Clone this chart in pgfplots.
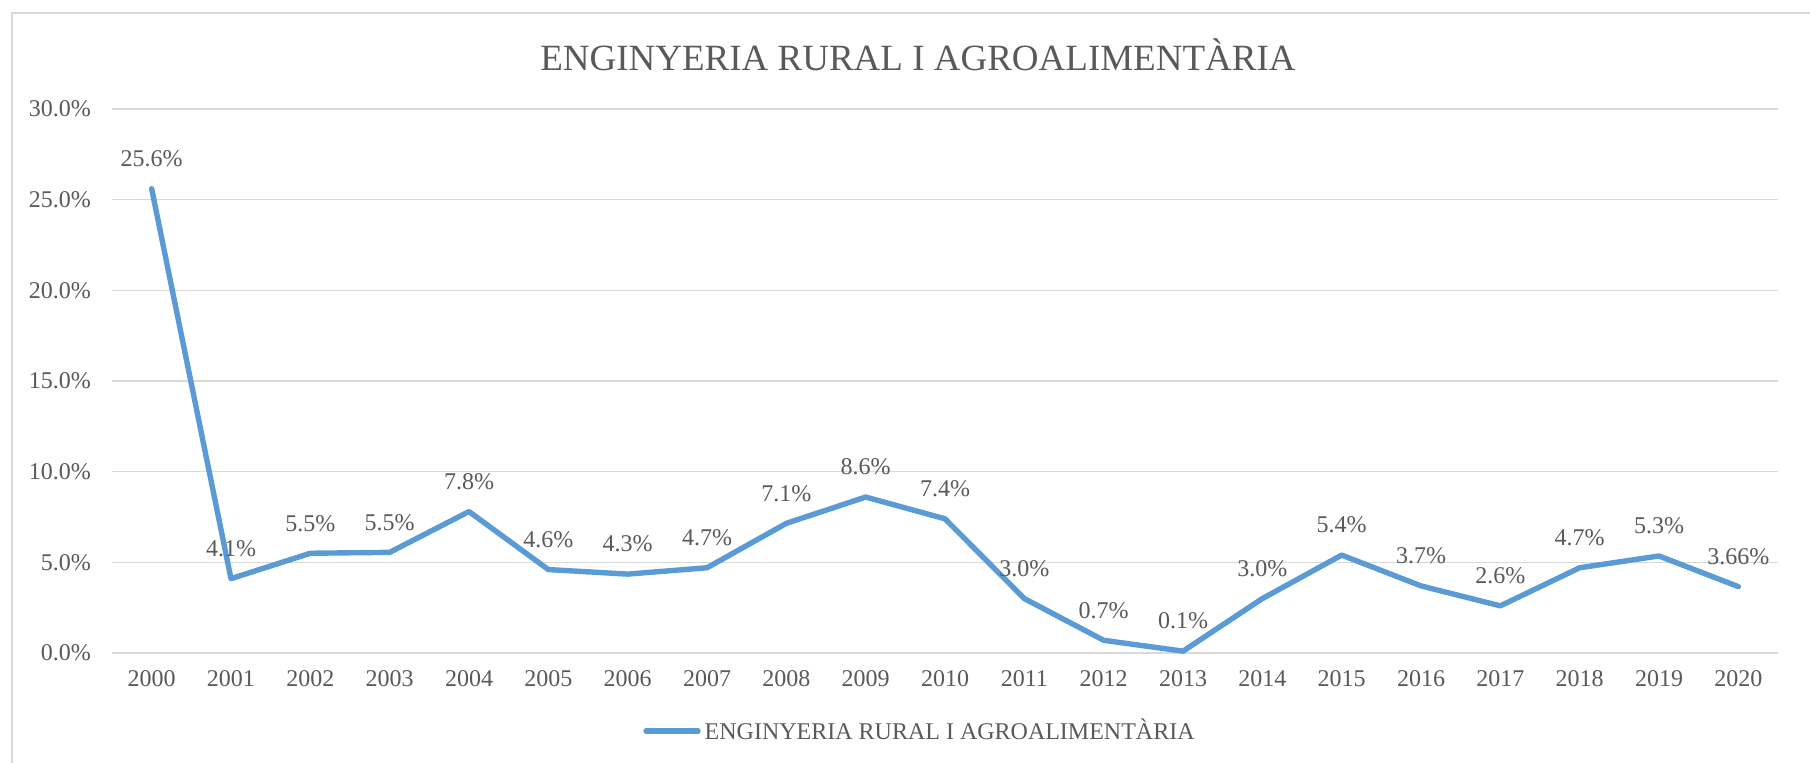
\documentclass[border=0pt]{standalone}
\usepackage{pgfplots}
\pgfplotsset{compat=1.18}
\usepackage{pgfplotstable}
\usepackage{fontspec}
\setmainfont{Liberation Serif}
\definecolor{txtc}{HTML}{595959}
\definecolor{gridc}{HTML}{D9D9D9}
\definecolor{serc}{HTML}{5B9BD5}
\pgfplotstableread{
x y lab
0 25.6 25.6\%
1 4.1 4.1\%
2 5.5 5.5\%
3 5.55 5.5\%
4 7.8 7.8\%
5 4.6 4.6\%
6 4.35 4.3\%
7 4.7 4.7\%
8 7.15 7.1\%
9 8.6 8.6\%
10 7.4 7.4\%
11 3.0 3.0\%
12 0.7 0.7\%
13 0.1 0.1\%
14 3.0 3.0\%
15 5.4 5.4\%
16 3.7 3.7\%
17 2.6 2.6\%
18 4.7 4.7\%
19 5.35 5.3\%
20 3.66 3.66\%
}\datatable
\begin{document}
\begin{tikzpicture}
\path[use as bounding box] (-56pt,-55pt) rectangle (849pt,326.5pt);
\draw[gridc, line width=0.8pt] (-50pt,-60pt) -- (-50pt,320pt) -- (860pt,320pt);
\begin{axis}[
  at={(0pt,0pt)}, anchor=south west,
  scale only axis, width=833pt, height=272pt,
  xmin=-0.5, xmax=20.5, ymin=0, ymax=30,
  xtick={0,...,20},
  xticklabels={2000,2001,2002,2003,2004,2005,2006,2007,2008,2009,2010,2011,2012,2013,2014,2015,2016,2017,2018,2019,2020},
  ytick={0,5,10,15,20,25,30},
  yticklabel={\pgfmathprintnumber[fixed,fixed zerofill,precision=1]{\tick}\%},
  /pgf/number format/assume math mode=true,
  major tick length=0pt,
  axis line style={draw=none},
  xmajorgrids=false,
  ymajorgrids=true, grid style={draw=gridc, line width=0.8pt},
  xtick style={draw=none}, ytick style={draw=none},
  tick label style={font=\fontsize{12}{14}\selectfont, text=txtc},
  yticklabel style={xshift=-7pt},
  xticklabel style={yshift=-5pt},
  clip=false,
  legend style={at={(0.5,0)}, anchor=center, xshift=-12pt, yshift=-39pt, draw=none, fill=none,
    font=\fontsize{12}{14}\selectfont, text=txtc},
  legend image code/.code={\draw[#1, line cap=round] (0pt,0pt) -- (26pt,0pt);},
]
\addplot[serc, line width=2.7pt, line join=round, line cap=round,
  nodes near coords, point meta=explicit symbolic,
  every node near coord/.append style={anchor=center, yshift=15pt, font=\fontsize{12}{14}\selectfont, text=txtc}]
  table[x=x, y=y, meta=lab] {\datatable};
\addlegendentry{ENGINYERIA RURAL I AGROALIMENTÀRIA}
\end{axis}
\node[text=txtc, font=\fontsize{18.5}{22}\selectfont] at (403pt,299pt) {ENGINYERIA RURAL I AGROALIMENTÀRIA};
\end{tikzpicture}
\end{document}
